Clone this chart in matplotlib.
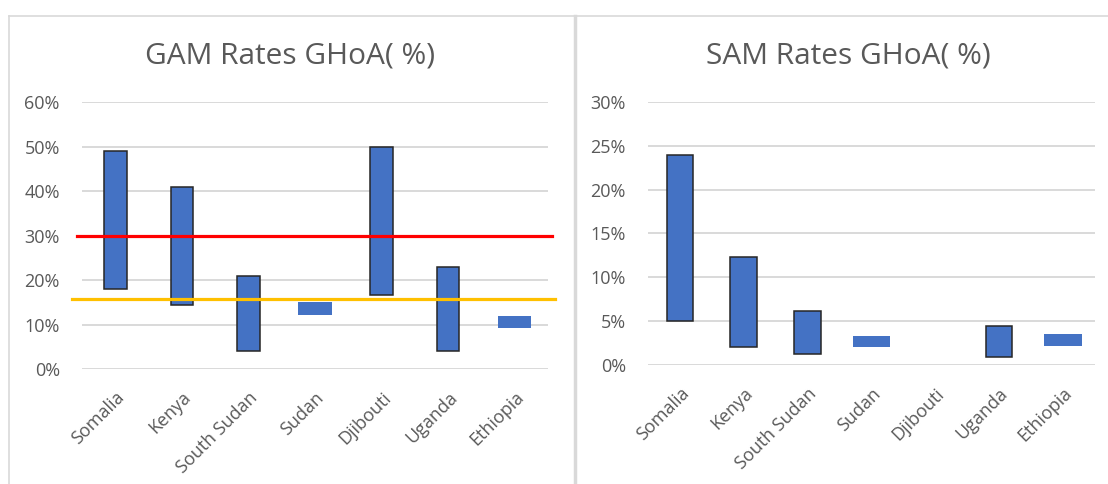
import matplotlib
matplotlib.use("Agg")
import matplotlib.pyplot as plt
from matplotlib.lines import Line2D
from matplotlib.ticker import FuncFormatter

countries = ["Somalia", "Kenya", "South Sudan", "Sudan", "Djibouti", "Uganda", "Ethiopia"]

# GAM range (%) low / high
gam_low = [18.0, 14.4, 4.0, 12.2, 16.7, 4.1, 9.2]
gam_high = [49.0, 41.0, 21.0, 15.0, 50.0, 23.0, 11.9]
gam_edged = [True, True, True, False, True, True, False]
gam_emergency = 30
gam_threshold = 15.7

# SAM range (%) low / high, Djibouti has no data
sam_low = [5.0, 2.0, 1.25, 2.0, None, 0.9, 2.2]
sam_high = [24.0, 12.3, 6.2, 3.35, None, 4.5, 3.5]
sam_edged = [True, True, True, False, False, True, False]

FONT = ["Open Sans", "DejaVu Sans"]
GREY = "#595959"
BLUE = "#4472C4"
GRID = "#d9d9d9"

plt.rcParams['font.family'] = FONT

fig = plt.figure(figsize=(11.08, 4.84), dpi=100)


def draw(ax, low, high, edged, ymax, step, w_edge, w_plain):
    x = list(range(len(countries)))
    for i in x:
        if low[i] is None:
            continue
        if edged[i]:
            ax.bar(i, high[i] - low[i], bottom=low[i], width=w_edge, color=BLUE,
                   edgecolor="#262626", linewidth=1.1, zorder=3)
        else:
            ax.bar(i, high[i] - low[i], bottom=low[i], width=w_plain, color=BLUE,
                   linewidth=0, zorder=3)
    ax.set_xlim(-0.5, len(countries) - 0.5)
    ax.set_ylim(0, ymax)
    ax.set_yticks(range(0, ymax + 1, step))
    ax.yaxis.set_major_formatter(FuncFormatter(lambda v, p: "%d%%" % v))
    ax.grid(axis="y", color=GRID, linewidth=1.4, zorder=0)
    ax.set_axisbelow(True)
    for s in ax.spines.values():
        s.set_visible(False)
    ax.tick_params(length=0, labelsize=13, colors=GREY)
    ax.tick_params(axis="y", pad=16)
    ax.set_xticks(x)
    ax.set_xticklabels(countries, rotation=45, ha="right", rotation_mode="anchor")
    ax.tick_params(axis="x", pad=14)


ax1 = fig.add_axes([0.074, 0.2376, 0.4206, 0.5514])
draw(ax1, gam_low, gam_high, gam_edged, 60, 10, 0.34, 0.5)
ax1.plot([-0.58, 6.56], [gam_emergency, gam_emergency], color="#ff0000", lw=2.3,
         clip_on=False, zorder=4)
ax1.plot([-0.65, 6.6], [gam_threshold, gam_threshold], color="#ffc000", lw=2.3,
         clip_on=False, zorder=4)

ax2 = fig.add_axes([0.585, 0.2459, 0.403, 0.5434])
draw(ax2, sam_low, sam_high, sam_edged, 30, 5, 0.42, 0.59)

fig.text(0.262, 0.885, "GAM Rates GHoA( %)", ha="center", va="center", fontsize=21.5, color=GREY)
fig.text(0.766, 0.885, "SAM Rates GHoA( %)", ha="center", va="center", fontsize=21.5, color=GREY)

# panel frames
fig.add_artist(Line2D([9 / 1108, 1], [1 - 16 / 484, 1 - 16 / 484], color=GRID, lw=1.2))
fig.add_artist(Line2D([9 / 1108, 9 / 1108], [0, 1 - 16 / 484], color=GRID, lw=1.2))
fig.add_artist(Line2D([575 / 1108, 575 / 1108], [0, 1 - 16 / 484], color=GRID, lw=2.5))

fig.savefig("out.png", dpi=100)
